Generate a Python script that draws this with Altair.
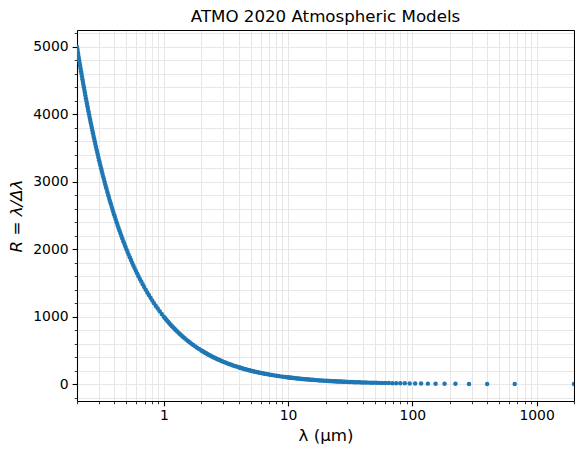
import altair as alt
import pandas as pd

# --- data (wavelength in micron, resolving power R) ---
steep_lam = [0.2, 0.2016, 0.2033, 0.2049, 0.2066, 0.2083, 0.2101, 0.2119, 0.2137, 0.2155,
             0.2174, 0.2193, 0.2212, 0.2232, 0.2252, 0.2273, 0.2294, 0.2315, 0.2336, 0.2358,
             0.2381, 0.2404, 0.2427, 0.2451, 0.2475, 0.25, 0.2525, 0.2551, 0.2577, 0.2604,
             0.2632, 0.2660, 0.2688, 0.2717, 0.2747, 0.2778, 0.2809, 0.2841, 0.2874, 0.2907,
             0.2941, 0.2976, 0.3012, 0.3049, 0.3086, 0.3125, 0.3165, 0.3205, 0.3247, 0.3289,
             0.3333, 0.3378, 0.3425, 0.3472, 0.3521, 0.3571, 0.3623, 0.3676, 0.3731, 0.3788,
             0.3846, 0.3906, 0.3968, 0.4032, 0.4098, 0.4167, 0.4237, 0.4310, 0.4386, 0.4464,
             0.4545, 0.4630, 0.4717, 0.4808, 0.4902, 0.5, 0.5102, 0.5208, 0.5319, 0.5435,
             0.5556, 0.5682, 0.5814, 0.5952, 0.6098, 0.625, 0.6410, 0.6579, 0.6757, 0.6944,
             0.7143, 0.7353, 0.7576, 0.7813, 0.8065, 0.8333, 0.8621, 0.8929, 0.9259, 0.9615]
steep_R = [5000, 4960, 4920, 4880, 4840, 4800, 4760, 4720, 4680, 4640,
           4600, 4560, 4520, 4480, 4440, 4400, 4360, 4320, 4280, 4240,
           4200, 4160, 4120, 4080, 4040, 4000, 3960, 3920, 3880, 3840,
           3800, 3760, 3720, 3680, 3640, 3600, 3560, 3520, 3480, 3440,
           3400, 3360, 3320, 3280, 3240, 3200, 3160, 3120, 3080, 3040,
           3000, 2960, 2920, 2880, 2840, 2800, 2760, 2720, 2680, 2640,
           2600, 2560, 2520, 2480, 2440, 2400, 2360, 2320, 2280, 2240,
           2200, 2160, 2120, 2080, 2040, 2000, 1960, 1920, 1880, 1840,
           1800, 1760, 1720, 1680, 1640, 1600, 1560, 1520, 1480, 1440,
           1400, 1360, 1320, 1280, 1240, 1200, 1160, 1120, 1080, 1040]

knee_lam = [1.0, 1.020, 1.042, 1.064, 1.087, 1.111, 1.136, 1.163, 1.190, 1.220,
            1.25, 1.282, 1.316, 1.351, 1.389, 1.429, 1.471, 1.515, 1.563, 1.613,
            1.667, 1.724, 1.786, 1.852, 1.923,
            2.0, 2.041, 2.083, 2.128, 2.174, 2.222, 2.273, 2.326, 2.381, 2.439,
            2.5, 2.564, 2.632, 2.703, 2.778, 2.857, 2.941, 3.030, 3.125, 3.226,
            3.333, 3.448, 3.571, 3.704, 3.846,
            4.0, 4.082, 4.167, 4.255, 4.348, 4.444, 4.545, 4.651, 4.762, 4.878,
            5.0, 5.128, 5.263, 5.405, 5.556, 5.714, 5.882, 6.061, 6.25, 6.452,
            6.667, 6.897, 7.143, 7.407, 7.692, 8.0, 8.333, 8.696, 9.091, 9.524]
knee_R = [1000, 980, 960, 940, 920, 900, 880, 860, 840, 820,
          800, 780, 760, 740, 720, 700, 680, 660, 640, 620,
          600, 580, 560, 540, 520,
          500, 490, 480, 470, 460, 450, 440, 430, 420, 410,
          400, 390, 380, 370, 360, 350, 340, 330, 320, 310,
          300, 290, 280, 270, 260,
          250, 245, 240, 235, 230, 225, 220, 215, 210, 205,
          200, 195, 190, 185, 180, 175, 170, 165, 160, 155,
          150, 145, 140, 135, 130, 125, 120, 115, 110, 105]

flat_lam = [9.852, 10.05, 10.26, 10.47, 10.70, 10.93, 11.17, 11.43, 11.70, 11.98,
            12.27, 12.58, 12.90, 13.25, 13.61, 13.99, 14.39, 14.81, 15.27, 15.75,
            16.26, 16.81, 17.39, 18.02, 18.69, 19.42]
flat_R = [101.5, 99.5, 97.5, 95.5, 93.5, 91.5, 89.5, 87.5, 85.5, 83.5,
          81.5, 79.5, 77.5, 75.5, 73.5, 71.5, 69.5, 67.5, 65.5, 63.5,
          61.5, 59.5, 57.5, 55.5, 53.5, 51.5]

tail_lam = [20.20, 20.62, 21.05, 21.51, 21.98, 22.47, 22.99, 23.53, 24.10, 24.69,
            25.32, 25.97, 26.67, 27.40, 28.17, 28.99, 29.85, 30.77, 31.75, 32.79,
            33.90, 35.09, 36.36, 37.74, 39.22, 40.82, 42.55, 44.44, 46.51, 48.78,
            51.28, 54.05, 57.14, 60.61, 64.52, 68.97, 74.07, 80.0, 86.96, 95.24,
            105.3, 117.6, 133.3, 153.8, 181.8, 222.2, 285.7, 400.0, 666.7, 2000.0]
tail_R = [49.5, 48.5, 47.5, 46.5, 45.5, 44.5, 43.5, 42.5, 41.5, 40.5,
          39.5, 38.5, 37.5, 36.5, 35.5, 34.5, 33.5, 32.5, 31.5, 30.5,
          29.5, 28.5, 27.5, 26.5, 25.5, 24.5, 23.5, 22.5, 21.5, 20.5,
          19.5, 18.5, 17.5, 16.5, 15.5, 14.5, 13.5, 12.5, 11.5, 10.5,
          9.5, 8.5, 7.5, 6.5, 5.5, 4.5, 3.5, 2.5, 1.5, 0.5]

x_major = [1, 10, 100, 1000]
y_major = [0, 1000, 2000, 3000, 4000, 5000]
title_text = ["ATMO 2020 Atmospheric Models"]

df = pd.DataFrame({
    "lam": steep_lam + knee_lam + flat_lam + tail_lam,
    "R": steep_R + knee_R + flat_R + tail_R,
})

x_ticks = [round(m * 0.1, 1) for m in range(2, 10)] + [m * d for d in (1, 10, 100) for m in range(1, 10)] + [1000, 2000]
y_ticks = list(range(-200, 5201, 200))

FONT = "DejaVu Sans"
x_test = "indexof([1,10,100,1000], datum.value) >= 0"
y_test = "datum.value % 1000 == 0"

x_scale = alt.Scale(type="log", domain=[0.2, 2000], nice=False)
y_scale = alt.Scale(domain=[-250, 5250], nice=False, zero=False)

x_axis = alt.Axis(
    values=x_ticks, orient="bottom",
    labelExpr=x_test + " ? format(datum.value, 'd') : ''",
    tickSize={"condition": {"test": x_test, "value": 4.9}, "value": 2.8},
    tickWidth={"condition": {"test": x_test, "value": 1.1}, "value": 0.8},
    labelOverlap=False, labelFlush=False, labelPadding=3,
    labelFont=FONT, labelFontSize=13.9, labelColor="black",
    tickColor="black", domainColor="black", domainWidth=1.1,
    grid=True, gridColor="#e7e7e7", gridWidth=1,
    title="λ (μm)", titleFont=FONT, titleFontSize=16.67, titleFontWeight="normal",
    titleColor="black", titleX=248.5, titleY=39, titleAlign="center", titleBaseline="alphabetic",
)
y_axis = alt.Axis(
    values=y_ticks, orient="left",
    labelExpr=y_test + " ? format(datum.value, 'd') : ''",
    tickSize={"condition": {"test": y_test, "value": 4.9}, "value": 2.8},
    tickWidth={"condition": {"test": y_test, "value": 1.1}, "value": 0.8},
    labelOverlap=False, labelFlush=False, labelPadding=4,
    labelFont=FONT, labelFontSize=13.9, labelColor="black",
    tickColor="black", domainColor="black", domainWidth=1.1,
    grid=True, gridColor="#e7e7e7", gridWidth=1,
    title="R = λ/Δλ", titleFont=FONT, titleFontSize=16.67, titleFontWeight="normal",
    titleFontStyle="italic", titleColor="black",
    titleX=-60.5, titleY=185.5, titleAngle=-90, titleAlign="center", titleBaseline="middle",
)

points = alt.Chart(df).mark_circle(size=20, color="#1f77b4", opacity=1, clip=True).encode(
    x=alt.X("lam:Q", scale=x_scale, axis=x_axis),
    y=alt.Y("R:Q", scale=y_scale, axis=y_axis),
)

# top and right spines (domain lines only)
frame = alt.Chart(df).mark_point(opacity=0, size=1).encode(
    x=alt.X("lam:Q", scale=x_scale, axis=alt.Axis(
        orient="top", ticks=False, labels=False, grid=False, title=None,
        domainColor="black", domainWidth=1.1)),
    y=alt.Y("R:Q", scale=y_scale, axis=alt.Axis(
        orient="right", ticks=False, labels=False, grid=False, title=None,
        domainColor="black", domainWidth=1.1)),
)

title = alt.Chart(pd.DataFrame({"t": title_text})).mark_text(
    font=FONT, fontSize=16.67, color="black", align="center", baseline="alphabetic",
).encode(text="t:N", x=alt.value(248.5), y=alt.value(-8.3))

chart = alt.layer(points, frame, title).resolve_axis(
    x="independent", y="independent"
).properties(
    width=497,
    height=371,
    autosize="none",
    padding={"left": 69, "top": 22, "right": 1, "bottom": 49},
).configure_view(stroke=None).configure(background="white")

chart.save("out.html", embed_options={"renderer": "svg", "actions": False})
